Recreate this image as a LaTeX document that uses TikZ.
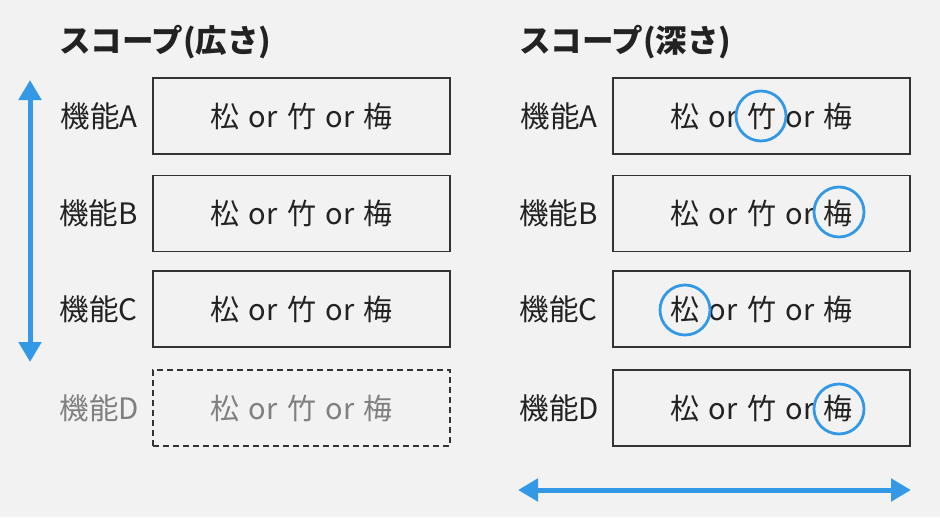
\documentclass[tikz,border=0pt]{standalone}
\usepackage{fontspec}
\setmainfont{Noto Sans CJK JP}
\usetikzlibrary{arrows.meta}
\definecolor{bg}{HTML}{F2F2F2}
\definecolor{ink}{HTML}{222222}
\definecolor{edge}{HTML}{333333}
\definecolor{muted}{HTML}{808080}
\definecolor{accent}{HTML}{3399E6}
\newcommand{\wsp}{\hspace{0.33em}}
\newcommand{\opts}{松\wsp or\wsp 竹\wsp or\wsp 梅}
\tikzset{
  optbox/.style={draw=edge, line width=1.3pt, minimum width=297pt, minimum height=76pt, inner sep=0pt, text=ink, font=\fontsize{29}{34}\selectfont},
  ghostbox/.style={optbox, draw=edge, dashed, dash pattern=on 6pt off 4pt, text=muted},
  featlabel/.style={anchor=east, text=ink, font=\fontsize{29.5}{34}\selectfont, inner sep=0pt},
  ghostlabel/.style={featlabel, text=muted},
  heading/.style={anchor=west, text=ink, font=\bfseries\fontsize{31.5}{36}\selectfont, inner sep=0pt},
  pick/.style={circle, draw=accent, line width=2.8pt, minimum size=50pt, inner sep=0pt},
  scopearrow/.style={draw=accent, line width=5pt, {Triangle[width=22pt,length=20pt]}-{Triangle[width=22pt,length=20pt]}}
}
\begin{document}
\begin{tikzpicture}[x=1pt,y=-1pt]
\fill[bg] (0,0) rectangle (940,517);
\useasboundingbox (0,0) rectangle (940,517);
% headings
\node[heading] (h1) at (59,42) {スコープ(広さ)};
\node[heading] (h2) at (519,42) {スコープ(深さ)};
% left boxes
\node[optbox] (lA) at (301.5,116) {\opts};
\node[optbox] (lB) at (301.5,213.5) {\opts};
\node[optbox] (lC) at (301.5,309) {\opts};
\node[ghostbox] (lD) at (301.5,408) {\opts};
\node[featlabel] (lAl) at (138,116) {機能A};
\node[featlabel] (lBl) at (138,213.5) {機能B};
\node[featlabel] (lCl) at (138,309) {機能C};
\node[ghostlabel] (lDl) at (139,408) {機能D};
% right boxes
\node[optbox] (rA) at (761.5,116) {\opts};
\node[optbox] (rB) at (761.5,213.5) {\opts};
\node[optbox] (rC) at (761.5,309) {\opts};
\node[optbox] (rD) at (761.5,408) {\opts};
\node[featlabel] (rAl) at (598,116) {機能A};
\node[featlabel] (rBl) at (598,213.5) {機能B};
\node[featlabel] (rCl) at (598,309) {機能C};
\node[featlabel] (rDl) at (599,408) {機能D};
% picks
\node[pick] (pA) at (761,116) {};
\node[pick] (pB) at (839,212) {};
\node[pick] (pC) at (685,310) {};
\node[pick] (pD) at (839,409) {};
% arrows
\coordinate (vt) at (30,80);
\coordinate (vb) at (30,362);
\draw[scopearrow] (vt) -- (vb);
\coordinate (hl) at (518,490);
\coordinate (hr) at (911,490);
\draw[scopearrow] (hl) -- (hr);
\end{tikzpicture}
\end{document}
